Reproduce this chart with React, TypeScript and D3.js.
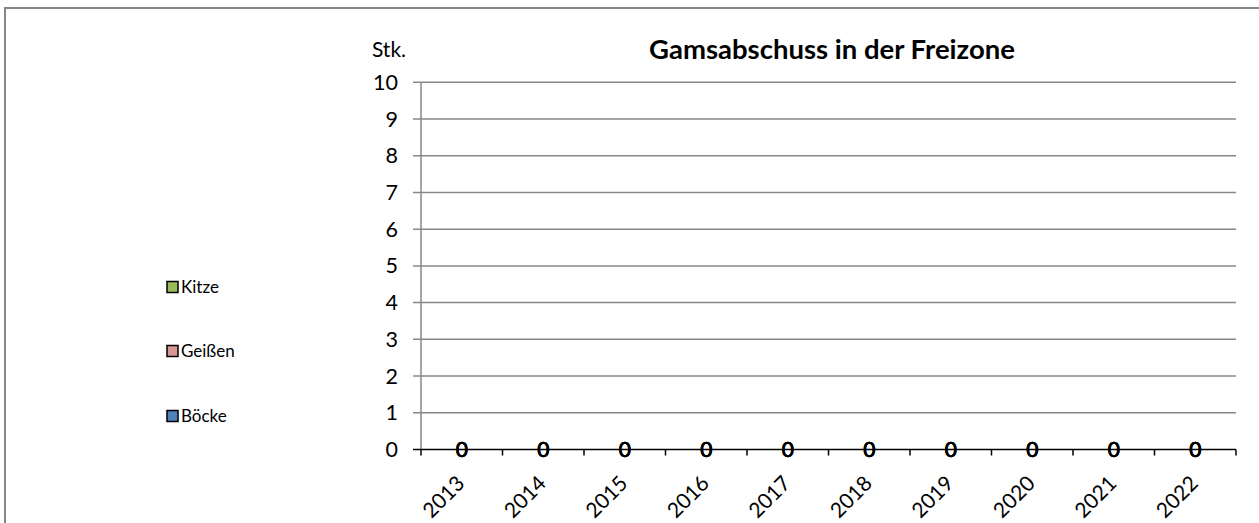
import React from "react";
import * as d3 from "d3";

const years = ["2013", "2014", "2015", "2016", "2017", "2018", "2019", "2020", "2021", "2022"];
const boecke = [0, 0, 0, 0, 0, 0, 0, 0, 0, 0];
const geissen = [0, 0, 0, 0, 0, 0, 0, 0, 0, 0];
const kitze = [0, 0, 0, 0, 0, 0, 0, 0, 0, 0];
const yTicks = [0, 1, 2, 3, 4, 5, 6, 7, 8, 9, 10];

const seriesDefs = [
  { name: "Böcke", values: boecke, color: "#4F81BD" },
  { name: "Geißen", values: geissen, color: "#D99694" },
  { name: "Kitze", values: kitze, color: "#9BBB59" },
];

const FONT = "Lato, 'Open Sans', sans-serif";

export default function App() {
  const W = 1259, H = 523;
  const left = 421, right = 1236, top = 82.3, bottom = 449.5;
  const x = d3.scaleBand<string>().domain(years).range([left, right]).paddingInner(0.5).paddingOuter(0.25);
  const xb = d3.scaleBand<string>().domain(years).range([left, right]);
  const y = d3.scaleLinear().domain([0, 10]).range([bottom, top]);

  const stacked = d3.stack<any>().keys(seriesDefs.map((s) => s.name))(
    years.map((yr, i) => {
      const o: any = { year: yr };
      seriesDefs.forEach((s) => (o[s.name] = s.values[i]));
      return o;
    })
  );

  const legendOrder = [...seriesDefs].reverse();
  const legendY = [287, 351, 416];

  return (
    <svg width={W} height={H} style={{ position: "absolute", left: 0, top: 0, background: "#fff" }}>
      <rect x={5} y={8} width={W + 10} height={H + 10} fill="#fff" stroke="#868686" strokeWidth={2} />
      <text x={832} y={59} textAnchor="middle" fontFamily={FONT} fontWeight="bold" fontSize={27.5} fill="#000">
        Gamsabschuss in der Freizone
      </text>
      <text x={389} y={57} textAnchor="middle" fontFamily={FONT} fontSize={21} fill="#000">
        Stk.
      </text>
      {yTicks.map((t) => (
        <g key={t}>
          {t > 0 && <line x1={left - 8} x2={right} y1={y(t)} y2={y(t)} stroke="#888" strokeWidth={1.5} />}
          <text x={398} y={y(t)} dy="0.35em" textAnchor="end" fontFamily={FONT} fontSize={21.5} fill="#000">
            {t}
          </text>
        </g>
      ))}
      <line x1={left} x2={left} y1={top} y2={bottom} stroke="#888" strokeWidth={1.5} />
      {stacked.map((layer, li) => (
        <g key={li}>
          {layer.map((d, i) => (
            <rect
              key={i}
              x={x(years[i])}
              width={x.bandwidth()}
              y={y(d[1])}
              height={y(d[0]) - y(d[1])}
              fill={seriesDefs[li].color}
            />
          ))}
        </g>
      ))}
      <line x1={left - 8} x2={right} y1={bottom} y2={bottom} stroke="#000" strokeWidth={1.5} />
      {[...years.map((yr) => xb(yr) as number), right].map((tx, i) => (
        <line key={i} x1={tx} x2={tx} y1={bottom} y2={bottom + 6} stroke="#000" strokeWidth={1.5} />
      ))}
      {stacked.map((layer, li) =>
        layer.map((d, i) => (
          <text
            key={`${li}-${i}`}
            x={(xb(years[i]) as number) + xb.bandwidth() / 2}
            y={y((d[0] + d[1]) / 2)}
            dy="0.35em"
            textAnchor="middle"
            fontFamily={FONT}
            fontSize={21}
            fill="#000"
            stroke="#000"
            strokeWidth={0.3}
          >
            {seriesDefs[li].values[i]}
          </text>
        ))
      )}
      {years.map((yr) => {
        const cx = (xb(yr) as number) + xb.bandwidth() / 2 - 1;
        const cy = bottom + 30;
        return (
          <text
            key={yr}
            transform={`translate(${cx},${cy}) rotate(-45)`}
            textAnchor="end"
            dy="0.35em"
            fontFamily={FONT}
            fontSize={21}
            fill="#000"
          >
            {yr}
          </text>
        );
      })}
      {legendOrder.map((s, i) => (
        <g key={s.name}>
          <rect x={167} y={legendY[i] - 5.5} width={11} height={11} fill={s.color} stroke="#000" strokeWidth={1.5} />
          <text x={181} y={legendY[i]} dy="0.35em" fontFamily={FONT} fontSize={17} fill="#000">
            {s.name}
          </text>
        </g>
      ))}
    </svg>
  );
}
